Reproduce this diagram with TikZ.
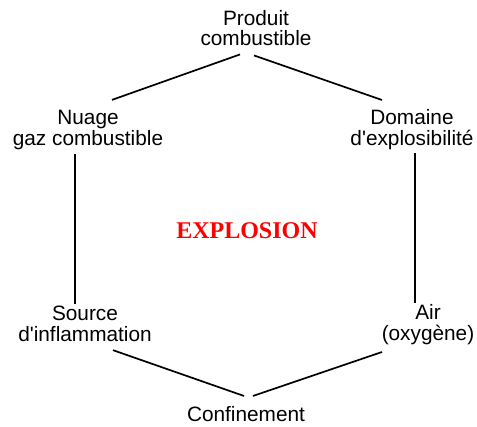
\documentclass[tikz,border=0pt]{standalone}
\usepackage{fontspec}
\setmainfont{Liberation Sans}
\newfontfamily\titrefont{Liberation Serif}
\usetikzlibrary{calc}

\tikzset{
  facteur/.style={align=center, inner sep=0pt, font=\fontsize{10.4}{10.4}\selectfont},
  lien/.style={black, line width=0.85pt}
}

\begin{document}
\begin{tikzpicture}[x=0.5pt,y=-0.5pt]
\useasboundingbox (0,0) rectangle (477,427);
% les six facteurs
\node[facteur] (prod) at (256,28)    {Produit\\combustible};
\node[facteur] (nuage) at (88,130)   {Nuage\\gaz combustible};
\node[facteur] (dom) at (412,130)    {Domaine\\d\textquotesingle explosibilit\'e};
\node[facteur] (src) at (85,324)     {Source\\d\textquotesingle inflammation};
\node[facteur] (air) at (428,324.5)  {Air\\(oxyg\`ene)};
\node[facteur] (conf) at (246,414)   {Confinement};
\node[text=red, inner sep=0pt, font=\titrefont\bfseries\fontsize{12}{14}\selectfont] (expl) at (247,231) {EXPLOSION};
% les liens
\draw[lien] ([shift={(-16,8)}]prod.south) -- ([shift={(24,-10)}]nuage.north);
\draw[lien] ([shift={(-2,9)}]prod.south) -- ([shift={(-30,-9.5)}]dom.north);
\draw[lien] ([shift={(-13,4)}]nuage.south) -- ([shift={(-10,-1.5)}]src.north);
\draw[lien] ([shift={(3,3)}]dom.south) -- ([shift={(-13,-1)}]air.north);
\draw[lien] ([shift={(28,8)}]src.south) -- ([shift={(-2,-10)}]conf.north);
\draw[lien] ([shift={(-46,7)}]air.south) -- ([shift={(7,-10)}]conf.north);
\end{tikzpicture}
\end{document}
